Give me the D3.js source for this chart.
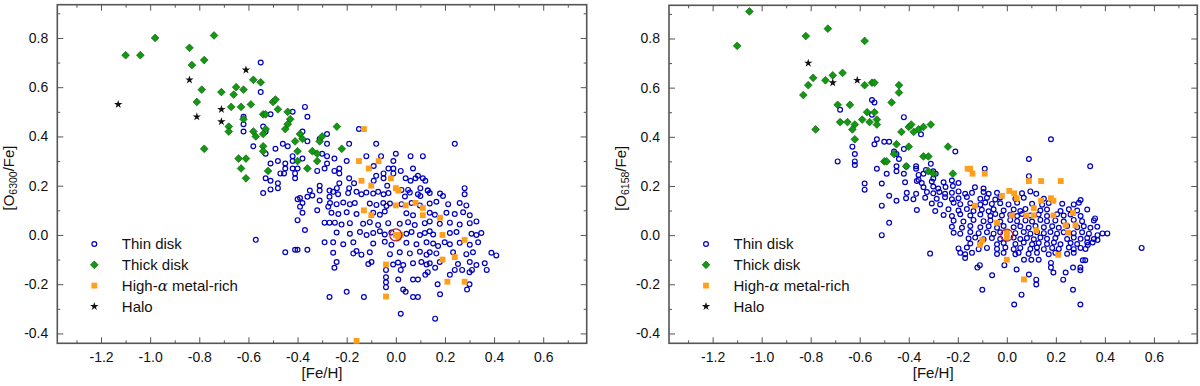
<!DOCTYPE html>
<html>
<head>
<meta charset="utf-8">
<script src="https://cdnjs.cloudflare.com/ajax/libs/d3/7.8.5/d3.min.js"></script>
<style>
  body { margin: 0; background: #fff; }
  svg { display: block; }
  text { font-family: "Liberation Sans", Arial, sans-serif; fill: #111; }
</style>
</head>
<body>
<svg id="chart" width="1200" height="386"></svg>
<script>
// tick values shared by both panels
var xTicks = [-1.2, -1.0, -0.8, -0.6, -0.4, -0.2, 0.0, 0.2, 0.4, 0.6];
var yTicks = [-0.4, -0.2, 0.0, 0.2, 0.4, 0.6, 0.8];
var xMinor = [-1.3, -1.1, -0.9, -0.7, -0.5, -0.3, -0.1, 0.1, 0.3, 0.5, 0.7];
var yMinor = [-0.3, -0.1, 0.1, 0.3, 0.5, 0.7, 0.9];

var legendLabels = ["Thin disk", "Thick disk", "High-α metal-rich", "Halo"];
var sunPoint = [0.0, 0.0];

// ---- left panel: [O6300/Fe] ----
var thinL = [
  [-0.55,0.70],[-0.62,0.48],[-0.62,0.45],[-0.62,0.42],
  [-0.55,0.58],[-0.37,0.52],[-0.36,0.48],[-0.42,0.50],[-0.51,0.49],[-0.54,0.44],[-0.53,0.42],[-0.58,0.36],
  [-0.49,0.35],[-0.46,0.37],[-0.44,0.36],[-0.51,0.29],[-0.48,0.30],[-0.45,0.29],[-0.45,0.27],[-0.42,0.30],
  [-0.42,0.27],[-0.40,0.27],[-0.38,0.31],[-0.38,0.42],[-0.36,0.38],[-0.42,0.32],[-0.28,0.41],[-0.28,0.37],
  [-0.31,0.39],[-0.30,0.33],[-0.28,0.32],[-0.28,0.29],[-0.29,0.27],[-0.32,0.26],[-0.25,0.31],[-0.25,0.26],
  [-0.23,0.27],[-0.23,0.25],[-0.19,0.37],[-0.20,0.30],[-0.15,0.43],[-0.08,0.37],[-0.12,0.32],[-0.06,0.32],
  [-0.09,0.28],[0.0,0.33],[0.06,0.32],[0.11,0.32],[-0.01,0.30],[-0.05,0.25],[-0.03,0.27],[-0.01,0.27],
  [-0.01,0.25],[0.02,0.26],[0.04,0.23],[0.07,0.27],[0.08,0.23],[0.11,0.23],[0.12,0.22],[0.09,0.24],
  [0.06,0.22],[0.10,0.19],[0.13,0.18],[-0.09,0.22],[-0.08,0.24],[-0.05,0.23],[-0.035,0.20],[-0.19,0.23],
  [-0.23,0.21],[-0.17,0.21],[-0.19,0.19],[-0.24,0.19],[-0.53,0.23],[-0.51,0.22],[-0.48,0.21],[-0.48,0.19],
  [-0.51,0.185],[-0.455,0.25],[-0.31,0.20],[-0.41,0.25],[-0.41,0.23],[-0.47,0.25],[-0.53,0.33],
  [0.24,0.37],[0.28,0.19],
  [-0.35,0.18],[-0.34,0.16],[-0.36,0.155],[-0.39,0.15],[-0.38,0.13],[-0.39,0.115],[-0.31,0.18],[-0.31,0.14],
  [-0.275,0.115],[-0.27,0.155],[-0.27,0.18],[-0.54,0.17],[-0.40,0.145],
  [-0.57,-0.02],[-0.45,-0.07],[-0.41,-0.06],[-0.40,-0.06],[-0.36,-0.06],[-0.40,0.06],[-0.38,0.09],[-0.37,0.02],
  [-0.32,0.10],[-0.29,0.05],[-0.27,0.05],[-0.29,-0.03],
  [-0.255,0.175],[-0.235,0.165],[-0.194,0.17],[-0.16,0.175],[-0.14,0.165],[-0.12,0.172],[-0.092,0.168],
  [-0.072,0.175],[-0.05,0.165],[-0.03,0.17],[0.057,0.172],[0.09,0.165],[0.138,0.17],[0.18,0.168],[0.192,0.158],
  [0.28,0.165],[0.023,0.183],[0.05,0.183],[0.037,0.156],[0.1,0.158],[0.13,0.18],
  [-0.268,0.13],[-0.241,0.125],[-0.214,0.132],[-0.187,0.125],[-0.167,0.13],[-0.106,0.128],[-0.079,0.122],
  [-0.051,0.13],[-0.038,0.118],[-0.024,0.128],[0.023,0.125],[0.064,0.13],[0.098,0.12],[0.138,0.128],
  [0.165,0.135],[0.213,0.125],[0.26,0.13],[0.287,0.12],
  [-0.262,0.09],[-0.234,0.085],[-0.2,0.092],[-0.16,0.085],[-0.092,0.09],[-0.065,0.082],[-0.045,0.095],
  [0.043,0.088],[0.07,0.08],[0.138,0.09],[0.159,0.082],[0.206,0.09],[0.24,0.085],[0.274,0.092],[0.301,0.08],
  [-0.248,0.05],[-0.221,0.042],[-0.187,0.048],[-0.133,0.045],[-0.106,0.052],[-0.072,0.04],[-0.031,0.048],
  [0.016,0.045],[0.05,0.052],[0.077,0.04],[0.118,0.048],[0.138,0.055],[0.179,0.045],[0.22,0.05],[0.26,0.042],
  [0.301,0.048],[0.328,0.055],
  [-0.241,0.01],[-0.187,0.005],[-0.146,0.012],[-0.119,0.0],[-0.092,0.008],[-0.065,0.015],[-0.045,0.002],
  [-0.018,0.01],[0.043,0.005],[0.064,0.012],[0.098,0.0],[0.118,0.008],[0.138,0.015],[0.152,0.002],[0.22,0.008],
  [0.247,0.012],[0.308,0.005],[0.328,0.0],[0.348,0.008],
  [-0.255,-0.03],[-0.214,-0.038],[-0.173,-0.03],[-0.092,-0.035],[-0.045,-0.028],[-0.018,-0.04],[0.043,-0.032],
  [0.084,-0.038],[0.125,-0.03],[0.152,-0.035],[0.172,-0.045],[0.199,-0.03],[0.22,-0.038],[0.26,-0.032],
  [0.301,-0.04],[0.335,-0.03],
  [-0.255,-0.072],[-0.173,-0.075],[-0.16,-0.065],[-0.14,-0.08],[-0.106,-0.07],[-0.024,-0.078],[0.016,-0.07],
  [0.057,-0.075],[0.098,-0.068],[0.125,-0.08],[0.138,-0.07],[0.165,-0.075],[0.233,-0.07],[0.287,-0.078],
  [0.314,-0.07],[0.389,-0.072],[0.409,-0.083],
  [-0.241,-0.11],[-0.112,-0.118],[-0.099,-0.11],[-0.011,-0.12],[0.009,-0.112],[0.03,-0.122],[0.07,-0.115],
  [0.104,-0.11],[0.125,-0.12],[0.138,-0.115],[0.179,-0.11],[0.253,-0.118],[0.301,-0.11],[0.328,-0.122],
  [0.362,-0.115],
  [-0.25,-0.133],[-0.04,-0.142],[-0.04,-0.172],[-0.04,-0.192],[-0.04,-0.212],[0.01,-0.181],[0.03,-0.222],
  [0.04,-0.231],[0.07,-0.181],[0.09,-0.181],[0.07,-0.252],[0.09,-0.252],[0.17,-0.20],[0.18,-0.241],
  [0.29,-0.222],[0.30,-0.20],[0.27,-0.142],[0.30,-0.151],[0.31,-0.142],[0.37,-0.142],[0.12,-0.162],
  [0.13,-0.151],[0.16,-0.133],[0.02,-0.142],[-0.27,-0.252],[-0.20,-0.231],[-0.13,-0.252],[0.02,-0.32],
  [0.16,-0.34],[0.22,-0.162],[0.24,-0.142]
];
var thickL = [
  [-1.10,0.73],[-1.04,0.73],[-0.98,0.80],[-0.84,0.76],[-0.74,0.81],[-0.83,0.69],[-0.78,0.71],[-0.79,0.59],
  [-0.81,0.54],[-0.78,0.35],[-0.71,0.58],[-0.67,0.52],[-0.66,0.57],[-0.65,0.60],[-0.62,0.59],[-0.59,0.53],
  [-0.63,0.52],[-0.62,0.47],[-0.58,0.63],[-0.55,0.62],[-0.68,0.44],[-0.68,0.42],[-0.58,0.42],[-0.57,0.40],
  [-0.54,0.49],[-0.53,0.49],[-0.50,0.54],[-0.49,0.55],[-0.48,0.51],[-0.54,0.36],[-0.54,0.34],[-0.64,0.31],
  [-0.61,0.31],[-0.63,0.27],[-0.61,0.23],[-0.52,0.26],[-0.53,0.43],[-0.54,0.41],[-0.44,0.50],[-0.43,0.47],
  [-0.45,0.43],[-0.44,0.45],[-0.41,0.38],[-0.39,0.41],[-0.38,0.39],[-0.40,0.34],[-0.40,0.30],[-0.36,0.27],
  [-0.34,0.34],[-0.32,0.33],[-0.32,0.30],[-0.31,0.38],[-0.30,0.40],[-0.24,0.44],[-0.22,0.35]
];
var alphaL = [
  [-0.13,0.43],[-0.15,0.30],[-0.07,0.30],[-0.11,0.27],[-0.14,0.22],[-0.10,0.20],[-0.02,0.23],[0.0,0.19],
  [0.01,0.18],[-0.13,0.10],[-0.10,0.08],[0.0,0.12],[0.04,0.12],[0.08,0.13],[0.11,0.11],[0.11,0.08],
  [0.18,0.07],[0.0,0.0],[0.01,-0.01],[0.02,0.0],[0.19,0.0],[0.28,-0.02],[0.19,-0.10],[0.24,-0.09],
  [-0.04,-0.12],[0.21,-0.19],[0.28,-0.19],[-0.04,-0.25],[-0.16,-0.43]
];
var haloL = [[-1.13,0.53],[-0.84,0.63],[-0.81,0.48],[-0.61,0.67],[-0.71,0.51],[-0.71,0.46]];

// ---- right panel: [O6158/Fe] ----
var thinR = [
  [-0.68,0.51],[-0.69,0.30],[-0.63,0.36],[-0.62,0.33],[-0.62,0.30],[-0.62,0.285],[-0.58,0.21],[-0.58,0.185],
  [-0.55,0.55],[-0.54,0.54],[-0.55,0.49],[-0.54,0.37],[-0.53,0.39],[-0.53,0.27],[-0.51,0.21],[-0.51,0.12],
  [-0.48,0.16],[-0.48,0.05],[-0.51,0.0],
  [-0.42,0.48],[-0.35,0.41],[-0.50,0.38],[-0.48,0.38],[-0.46,0.34],[-0.45,0.33],[-0.44,0.31],[-0.42,0.35],
  [-0.21,0.34],[0.18,0.39],[0.09,0.31],[0.34,0.28],[-0.09,0.27],[0.09,0.24],[-0.45,0.28],[-0.45,0.26],
  [-0.49,0.25],[-0.41,0.28],[-0.37,0.28],[-0.37,0.27],[-0.36,0.245],[-0.34,0.25],[-0.31,0.29],[-0.30,0.26],
  [-0.36,0.225],[-0.33,0.265],[-0.29,0.25],[-0.30,0.23],[-0.42,0.25],[-0.45,0.14],
  [-0.415,0.215],[-0.367,0.22],[-0.347,0.212],[-0.306,0.218],[-0.258,0.215],[-0.224,0.222],[-0.197,0.212],
  [-0.34,0.195],[-0.30,0.198],[-0.28,0.19],[-0.25,0.196],[-0.22,0.2],[-0.13,0.195],[-0.095,0.19],
  [-0.408,0.172],[-0.37,0.168],[-0.326,0.175],[-0.30,0.17],[-0.275,0.176],[-0.252,0.168],[-0.224,0.172],
  [-0.197,0.178],[-0.17,0.168],[-0.142,0.172],[-0.095,0.176],[-0.074,0.168],[-0.04,0.172],[0.062,0.17],
  [0.096,0.178],[0.12,0.168],
  [-0.411,0.15],[-0.381,0.146],[-0.333,0.152],[-0.286,0.148],[-0.252,0.154],[-0.224,0.146],[-0.197,0.15],
  [-0.163,0.155],[-0.108,0.148],[-0.081,0.152],[-0.047,0.145],[-0.027,0.153],[0.035,0.148],[0.069,0.152],
  [0.151,0.148],[0.301,0.143],
  [-0.306,0.129],[-0.272,0.125],[-0.217,0.132],[-0.19,0.126],[-0.149,0.13],[-0.108,0.124],[-0.088,0.133],
  [-0.061,0.127],[-0.027,0.13],[0.007,0.125],[0.042,0.132],[0.103,0.128],[0.144,0.124],[0.171,0.131],
  [0.226,0.128],[0.273,0.125],[0.294,0.132],
  [-0.367,0.102],[-0.292,0.098],[-0.238,0.105],[-0.197,0.1],[-0.163,0.106],[-0.136,0.098],[-0.102,0.103],
  [-0.074,0.097],[-0.054,0.105],[-0.013,0.1],[0.028,0.104],[0.055,0.098],[0.076,0.106],[0.137,0.1],
  [0.164,0.104],[0.219,0.098],[0.253,0.105],[0.287,0.1],[0.328,0.104],
  [-0.258,0.082],[-0.224,0.078],[-0.19,0.085],[-0.149,0.08],[-0.108,0.084],[-0.067,0.078],[-0.047,0.086],
  [-0.02,0.08],[0.014,0.083],[0.042,0.078],[0.062,0.086],[0.096,0.08],[0.13,0.084],[0.164,0.078],
  [0.205,0.085],[0.232,0.08],[0.26,0.084],[0.301,0.078],
  [-0.217,0.059],[-0.177,0.055],[-0.136,0.062],[-0.095,0.057],[-0.067,0.06],[-0.027,0.055],[0.014,0.062],
  [0.042,0.057],[0.076,0.06],[0.103,0.055],[0.137,0.062],[0.164,0.057],[0.198,0.06],[0.232,0.055],
  [0.273,0.062],[0.307,0.057],[0.355,0.06],
  [-0.224,0.034],[-0.183,0.03],[-0.149,0.037],[-0.108,0.032],[-0.074,0.036],[-0.04,0.03],[-0.013,0.037],
  [0.028,0.032],[0.055,0.036],[0.089,0.03],[0.117,0.037],[0.151,0.032],[0.185,0.036],[0.212,0.03],
  [0.246,0.037],[0.287,0.032],[0.314,0.036],[0.341,0.03],[0.369,0.034],
  [-0.217,0.01],[-0.19,0.006],[-0.149,0.013],[-0.115,0.008],[-0.081,0.012],[-0.054,0.006],[-0.027,0.012],
  [0.035,0.008],[0.069,0.013],[0.096,0.006],[0.123,0.012],[0.151,0.008],[0.178,0.013],[0.205,0.006],
  [0.232,0.012],[0.273,0.008],[0.307,0.012],[0.335,0.006],
  [-0.156,-0.014],[-0.129,-0.01],[-0.095,-0.017],[-0.061,-0.012],[-0.027,-0.016],[0.028,-0.01],[0.055,-0.016],
  [0.082,-0.012],[0.11,-0.017],[0.137,-0.01],[0.164,-0.015],[0.198,-0.012],[0.246,-0.016],[0.273,-0.01],
  [0.301,-0.015],[0.328,-0.012],[0.355,-0.016],
  [-0.149,-0.034],[-0.108,-0.03],[-0.04,-0.037],[-0.013,-0.032],[0.035,-0.036],[0.069,-0.03],[0.103,-0.037],
  [0.13,-0.032],[0.164,-0.036],[0.192,-0.03],[0.219,-0.037],[0.26,-0.032],[0.287,-0.036],[0.328,-0.03],
  [-0.197,-0.054],[-0.163,-0.05],[-0.115,-0.057],[-0.081,-0.052],[-0.04,-0.056],[-0.006,-0.05],[0.028,-0.057],
  [0.055,-0.052],[0.096,-0.056],[0.123,-0.05],[0.151,-0.057],[0.185,-0.052],[0.212,-0.056],[0.253,-0.05],
  [0.273,-0.057],[0.301,-0.052],[0.321,-0.056],
  [-0.313,-0.075],[-0.19,-0.072],[-0.17,-0.078],[-0.142,-0.072],[-0.04,-0.077],[-0.013,-0.072],[0.035,-0.078],
  [0.048,-0.072],[0.089,-0.076],[0.123,-0.072],[0.171,-0.078],[0.198,-0.072],[0.246,-0.076],[0.273,-0.072],
  [-0.17,-0.093],[-0.12,-0.132],[-0.11,-0.122],[-0.06,-0.163],[-0.10,-0.222],[-0.01,-0.122],[0.06,-0.242],
  [0.03,-0.282],[0.12,-0.181],[0.12,-0.201],[0.18,-0.113],[0.18,-0.132],[0.19,-0.152],[0.23,-0.181],
  [0.24,-0.152],[0.27,-0.132],[0.30,-0.132],[0.30,-0.143],[0.31,-0.102],[0.32,-0.102],[0.27,-0.222],
  [0.30,-0.282],[0.07,-0.10],[0.10,-0.10],[0.13,-0.10],[0.04,-0.14],[0.09,-0.16],
  [0.55,-0.052],[0.39,0.007],[0.41,0.007],[0.36,0.068],[0.37,0.0],[0.37,-0.02],[0.35,-0.03],[0.33,-0.04]
];
var thickR = [
  [-1.10,0.77],[-1.05,0.91],[-0.82,0.81],[-0.73,0.84],[-0.58,0.79],[-0.81,0.61],[-0.79,0.64],[-0.83,0.57],
  [-0.74,0.63],[-0.71,0.65],[-0.67,0.66],[-0.78,0.43],[-0.69,0.53],[-0.68,0.46],[-0.65,0.46],[-0.64,0.53],
  [-0.62,0.45],[-0.63,0.43],[-0.62,0.39],[-0.58,0.61],[-0.55,0.62],[-0.54,0.62],[-0.59,0.47],[-0.56,0.46],
  [-0.57,0.50],[-0.54,0.50],[-0.53,0.47],[-0.53,0.45],[-0.50,0.30],[-0.49,0.30],[-0.46,0.33],[-0.45,0.37],
  [-0.47,0.54],[-0.44,0.61],[-0.44,0.58],[-0.43,0.42],[-0.40,0.44],[-0.39,0.45],[-0.38,0.42],[-0.36,0.43],
  [-0.34,0.44],[-0.31,0.45],[-0.40,0.36],[-0.41,0.28],[-0.34,0.32],[-0.32,0.32],[-0.32,0.26],[-0.30,0.25],
  [-0.24,0.36],[-0.22,0.25]
];
var alphaR = [
  [-0.16,0.27],[-0.15,0.27],[-0.14,0.25],[-0.09,0.25],[0.09,0.22],[0.14,0.22],[0.22,0.22],[0.01,0.18],
  [0.03,0.17],[-0.02,0.16],[0.04,0.15],[0.14,0.14],[0.18,0.15],[0.19,0.14],[-0.13,0.12],[0.02,0.08],
  [0.08,0.08],[0.11,0.11],[0.11,0.08],[0.19,0.08],[0.27,0.09],[-0.04,0.05],[0.24,0.04],[0.28,0.04],
  [0.12,0.02],[0.25,0.01],[0.0,0.01],[0.0,-0.01],[-0.10,-0.02],[-0.11,-0.04],[0.21,-0.08],[0.0,-0.10],
  [0.07,-0.18]
];
var haloR = [[-0.81,0.70],[-0.71,0.62],[-0.61,0.63]];

var svg = d3.select("#chart");
var xDomain = [-1.378, 0.777],
    yDomain = [-0.44, 0.935];

var colors = {thin: "#0000c0", thick: "#119911", thickEdge: "#0a5a0a", alpha: "#ff9f1c", halo: "#111"};

var diamond = d3.symbol().type(d3.symbolSquare).size(30);
var square = d3.symbol().type(d3.symbolSquare).size(34);
var star = d3.symbol().type(d3.symbolStar).size(22);

function fmt(d) { return d.toFixed(1); }

function drawPanel(p) {
    var x = d3.scaleLinear().domain(xDomain).range([p.left, p.right]);
    var y = d3.scaleLinear().domain(yDomain).range([p.bottom, p.top]);
    var g = svg.append("g");

    // axes, ticks inward on all four sides
    function addAxis(axis, transform, vals, size, labels) {
        var a = g.append("g").attr("transform", transform)
            .call(axis.tickValues(vals).tickSizeInner(-size).tickSizeOuter(0)
                .tickPadding(labels ? 9 : 0).tickFormat(labels ? fmt : ""));
        a.select(".domain").remove();
        a.selectAll(".tick line").attr("stroke", "#555").attr("stroke-width", 1);
        a.selectAll("text").style("font-size", "14px").attr("fill", "#111");
        return a;
    }
    addAxis(d3.axisBottom(x), "translate(0," + p.bottom + ")", xTicks, 6, true);
    addAxis(d3.axisBottom(x), "translate(0," + p.bottom + ")", xMinor, 3, false);
    addAxis(d3.axisTop(x), "translate(0," + p.top + ")", xTicks, 6, false);
    addAxis(d3.axisTop(x), "translate(0," + p.top + ")", xMinor, 3, false);
    addAxis(d3.axisLeft(y), "translate(" + p.left + ",0)", yTicks, 6, true);
    addAxis(d3.axisLeft(y), "translate(" + p.left + ",0)", yMinor, 3, false);
    addAxis(d3.axisRight(y), "translate(" + p.right + ",0)", yTicks, 6, false);
    addAxis(d3.axisRight(y), "translate(" + p.right + ",0)", yMinor, 3, false);

    g.append("rect")
        .attr("x", p.left).attr("y", p.top)
        .attr("width", p.right - p.left).attr("height", p.bottom - p.top)
        .attr("fill", "none").attr("stroke", "#555").attr("stroke-width", 1.6);

    // thin disk
    g.selectAll(".thin").data(p.thin).enter().append("circle")
        .attr("cx", function(d) { return x(d[0]); })
        .attr("cy", function(d) { return y(d[1]); })
        .attr("r", 2.4)
        .attr("fill", "none").attr("stroke", colors.thin).attr("stroke-width", 1.2);

    // thick disk
    g.selectAll(".thick").data(p.thick).enter().append("path")
        .attr("d", diamond)
        .attr("transform", function(d) { return "translate(" + x(d[0]) + "," + y(d[1]) + ") rotate(45)"; })
        .attr("fill", colors.thick).attr("stroke", colors.thickEdge).attr("stroke-width", 0.6);

    // high-alpha metal-rich
    g.selectAll(".alpha").data(p.alpha).enter().append("path")
        .attr("d", square)
        .attr("transform", function(d) { return "translate(" + x(d[0]) + "," + y(d[1]) + ")"; })
        .attr("fill", colors.alpha);

    // halo
    g.selectAll(".halo").data(p.halo).enter().append("path")
        .attr("d", star)
        .attr("transform", function(d) { return "translate(" + x(d[0]) + "," + y(d[1]) + ")"; })
        .attr("fill", colors.halo);

    // sun
    g.append("circle")
        .attr("cx", x(sunPoint[0])).attr("cy", y(sunPoint[1]))
        .attr("r", 6).attr("fill", "none")
        .attr("stroke", "#b0203a").attr("stroke-width", 1.3);

    // legend
    var lg = g.append("g").attr("transform", "translate(" + (p.left + 37) + ",244)");
    legendLabels.forEach(function(lab, i) {
        var row = lg.append("g").attr("transform", "translate(0," + (i * 20.8) + ")");
        if (i === 0) row.append("circle").attr("r", 2.4).attr("fill", "none")
            .attr("stroke", colors.thin).attr("stroke-width", 1.2);
        if (i === 1) row.append("path").attr("d", diamond).attr("transform", "rotate(45)")
            .attr("fill", colors.thick).attr("stroke", colors.thickEdge).attr("stroke-width", 0.6);
        if (i === 2) row.append("path").attr("d", square).attr("fill", colors.alpha);
        if (i === 3) row.append("path").attr("d", star).attr("fill", colors.halo);
        var t = row.append("text").attr("x", 27.5).attr("dy", "0.36em").style("font-size", "15px");
        if (i === 2) {
            t.append("tspan").text("High-");
            t.append("tspan").style("font-style", "italic").style("font-family", "DejaVu Serif").text("α");
            t.append("tspan").text(" metal-rich");
        } else {
            t.text(lab);
        }
    });

    // axis titles
    g.append("text")
        .attr("x", (p.left + p.right) / 2).attr("y", 378)
        .attr("text-anchor", "middle").style("font-size", "15px")
        .text("[Fe/H]");

    var yl = g.append("text")
        .attr("transform", "translate(" + (p.left - 43) + "," + ((p.top + p.bottom) / 2 + 4) + ") rotate(-90)")
        .attr("text-anchor", "middle").style("font-size", "15px");
    yl.append("tspan").text("[O");
    yl.append("tspan").attr("dy", 3).style("font-size", "10.5px").text(p.line);
    yl.append("tspan").attr("dy", -3).text("/Fe]");
}

drawPanel({left: 57.3, right: 586.7, top: 4.7, bottom: 343.3,
           thin: thinL, thick: thickL, alpha: alphaL, halo: haloL, line: "6300"});
drawPanel({left: 669, right: 1197.3, top: 5.3, bottom: 343.3,
           thin: thinR, thick: thickR, alpha: alphaR, halo: haloR, line: "6158"});
</script>
</body>
</html>
